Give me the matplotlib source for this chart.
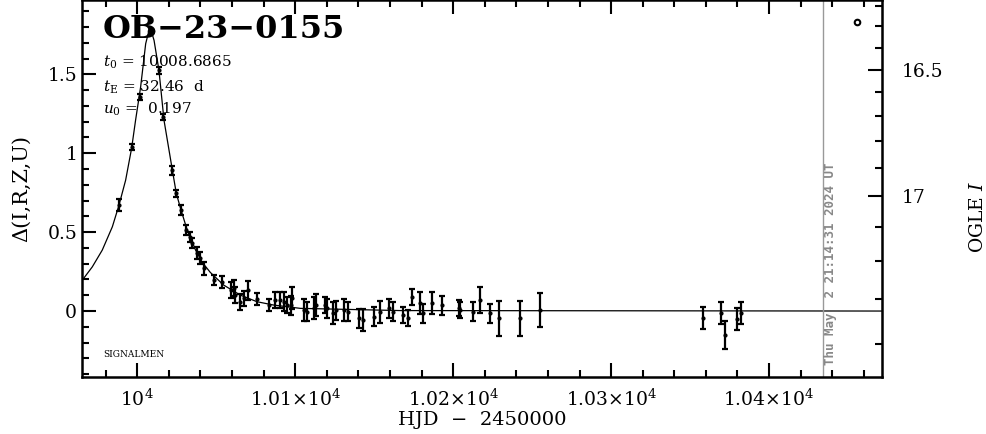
import numpy as np
import matplotlib
matplotlib.use("Agg")
import matplotlib.pyplot as plt
from matplotlib.ticker import MultipleLocator, FixedLocator

plt.rcParams['font.family'] = ['DejaVu Serif']
plt.rcParams['mathtext.fontset'] = 'dejavuserif'

# observed points: HJD-2450000, delta, error
t_obs = [9988.4, 9996.4, 10001.5, 10013.7, 10016.5, 10022.2, 10024.7, 10027.7, 10031.0, 10033.1,
         10034.5, 10038.0, 10039.4, 10042.4, 10048.7, 10053.6, 10059.3, 10061.0, 10062.0, 10065.2,
         10067.3, 10069.8, 10075.7, 10083.5, 10087.3, 10090.1, 10092.6, 10094.7, 10097.3, 10097.9,
         10105.3, 10107.4, 10111.6, 10113.3, 10119.0, 10120.1, 10123.9, 10125.9, 10130.6, 10133.1,
         10140.1, 10143.2, 10149.6, 10153.8, 10159.1, 10162.2, 10168.5, 10171.7, 10173.9, 10179.1,
         10180.8, 10186.5, 10192.8, 10203.4, 10204.4, 10212.8, 10216.7, 10223.0, 10228.7, 10242.4,
         10255.1, 10358.4, 10369.4, 10372.2, 10379.6, 10382.1]
d_obs = [0.671, 1.040, 1.356, 1.525, 1.230, 0.892, 0.745, 0.639, 0.513, 0.470,
         0.430, 0.367, 0.335, 0.270, 0.196, 0.185, 0.133, 0.144, 0.101, 0.057,
         0.080, 0.133, 0.076, 0.038, 0.070, 0.070, 0.059, 0.038, 0.038, 0.082,
         0.006, -0.004, 0.017, 0.038, 0.038, 0.017, -0.015, 0.006, 0.006, -0.004,
         -0.046, -0.057, -0.036, -0.004, 0.017, -0.004, -0.025, -0.046, 0.090, 0.049,
         -0.015, 0.049, 0.038, 0.017, 0.006, -0.004, 0.070, -0.015, -0.046, -0.046,
         0.006, -0.046, -0.015, -0.152, -0.053, -0.015]
d_err = [0.04, 0.02, 0.02, 0.02, 0.02, 0.03, 0.02, 0.03, 0.03, 0.03,
         0.03, 0.04, 0.04, 0.04, 0.03, 0.04, 0.05, 0.05, 0.05, 0.05,
         0.05, 0.06, 0.04, 0.04, 0.05, 0.05, 0.06, 0.05, 0.06, 0.07,
         0.07, 0.06, 0.07, 0.07, 0.05, 0.06, 0.07, 0.06, 0.07, 0.06,
         0.06, 0.07, 0.06, 0.07, 0.06, 0.06, 0.05, 0.05, 0.05, 0.07,
         0.06, 0.07, 0.06, 0.05, 0.05, 0.06, 0.08, 0.06, 0.11, 0.11,
         0.11, 0.07, 0.07, 0.09, 0.07, 0.07]

# open circle symbols
t_circ = [10008.4, 10455.7]
d_circ = [1.775, 1.829]

# model curve
t_model = [9965.2, 9971.5, 9977.8, 9984.2, 9988.4, 9992.6, 9996.4, 9998.9, 10002.1, 10005.3,
           10007.4, 10008.4, 10010.6, 10013.7, 10016.9, 10020.4, 10022.2, 10024.7, 10027.7, 10031.6,
           10036.9, 10041.0, 10046.2, 10054.6, 10065.2, 10075.8, 10086.3, 10103.2, 10166.5, 10471.5]
d_model = [0.196, 0.280, 0.386, 0.534, 0.671, 0.829, 1.032, 1.209, 1.420, 1.694,
           1.778, 1.789, 1.715, 1.525, 1.209, 1.000, 0.892, 0.745, 0.639, 0.513,
           0.386, 0.310, 0.245, 0.165, 0.101, 0.059, 0.038, 0.017, 0.003, 0.0]

date_line = 10434.2
fs = 0.37
i_base = 17.328


def to_mag(d):
    d = np.asarray(d, dtype=float)
    return i_base - 2.5 * np.log10(fs * 10 ** (0.4 * d) + 1 - fs)


def to_delta(m):
    m = np.asarray(m, dtype=float)
    arg = (10 ** (-0.4 * (m - i_base)) - (1 - fs)) / fs
    return 2.5 * np.log10(np.clip(arg, 1e-6, None))


fig = plt.figure(figsize=(9.86, 4.34), dpi=100)
ax = fig.add_axes([0.0832, 0.1313, 0.8113, 0.8677])

ax.plot(t_model, d_model, color='black', lw=0.9)
ax.errorbar(t_obs, d_obs, yerr=d_err, fmt='o', ms=2, color='black',
            elinewidth=1.6, capsize=2, capthick=1.6)
ax.plot(t_circ, d_circ, 'o', ms=4, mfc='white', mec='black', mew=1.5)

ax.axvline(date_line, color='#999999', lw=1)
ax.text(date_line + 5, -0.34, 'Thu May  2 21:14:31 2024 UT', rotation=90,
        color='#888888', fontsize=9, fontweight='bold', family='DejaVu Sans Mono',
        ha='center', va='bottom')

ax.set_xlim(9965, 10471.5)
ax.set_ylim(-0.418, 1.968)

ax.xaxis.set_major_locator(FixedLocator([10000, 10100, 10200, 10300, 10400]))
ax.set_xticklabels([r'$10^4$', r'$1.01{\times}10^4$', r'$1.02{\times}10^4$',
                    r'$1.03{\times}10^4$', r'$1.04{\times}10^4$'])
ax.xaxis.set_minor_locator(MultipleLocator(20))
ax.yaxis.set_major_locator(FixedLocator([0, 0.5, 1, 1.5]))
ax.set_yticklabels(['0', '0.5', '1', '1.5'])
ax.yaxis.set_minor_locator(MultipleLocator(0.1))

ax.tick_params(which='both', direction='in', top=True, right=False, labelsize=13.5, width=1.5)
ax.tick_params(which='major', length=10)
ax.tick_params(which='minor', length=5)
ax.tick_params(axis='x', pad=8)
for s in ax.spines.values():
    s.set_linewidth(1.8)

sec = ax.secondary_yaxis('right', functions=(to_mag, to_delta))
sec.yaxis.set_major_locator(FixedLocator([16.5, 17]))
sec.set_yticklabels(['16.5', '17'])
sec.yaxis.set_minor_locator(FixedLocator([16.2, 16.3, 16.4, 16.6, 16.7, 16.8, 16.9,
                                           17.1, 17.2, 17.3, 17.4]))
sec.tick_params(which='both', direction='in', labelsize=13.5, width=1.5, pad=14)
sec.tick_params(which='major', length=10)
sec.tick_params(which='minor', length=5)
fig.text(0.9915, 0.5, r'OGLE $I$', rotation=90, fontsize=13.5,
         ha='center', va='center')

ax.set_xlabel('HJD  \u2212  2450000', fontsize=14, labelpad=1)
ax.set_ylabel('\u0394(I,R,Z,U)', fontsize=15, labelpad=12)

ax.text(0.026, 0.965, 'OB\u221223\u22120155', transform=ax.transAxes,
        fontsize=23, fontweight='bold', va='top', ha='left')
ax.text(0.026, 0.836, r'$t_0$ = 10008.6865', transform=ax.transAxes, fontsize=11, va='center')
ax.text(0.026, 0.769, r'$t_{\rm E}$ = 32.46  d', transform=ax.transAxes, fontsize=11, va='center')
ax.text(0.026, 0.711, r'$u_0$ =  0.197', transform=ax.transAxes, fontsize=11, va='center')
ax.text(0.026, 0.06, 'SIGNALMEN', transform=ax.transAxes, fontsize=6.5, va='center')

fig.savefig('out.png', dpi=100)
